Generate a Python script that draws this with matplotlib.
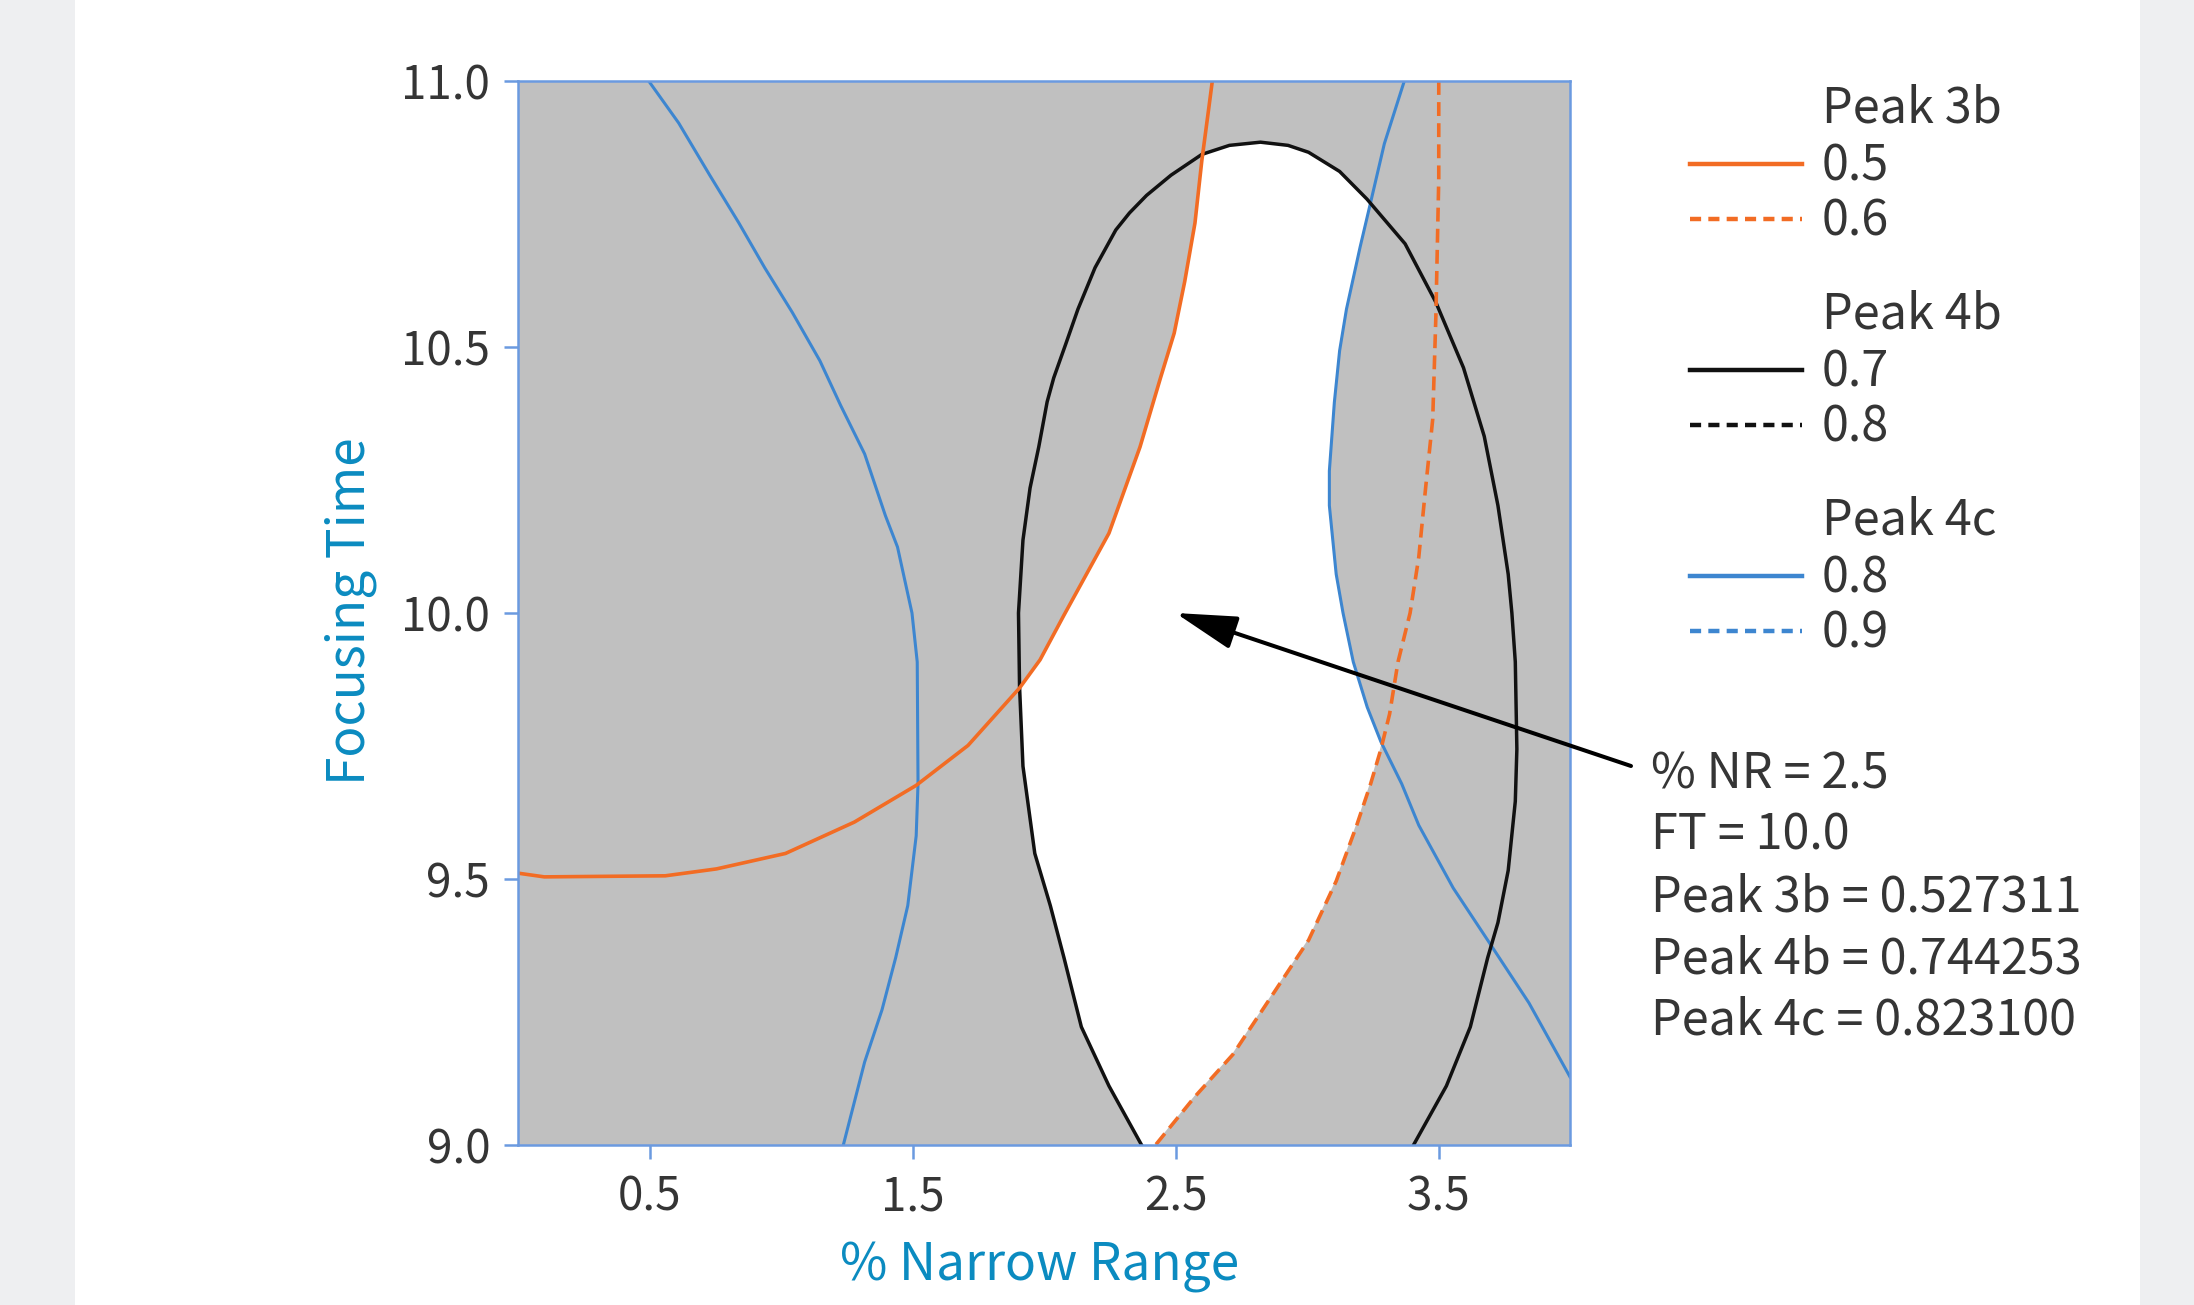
import matplotlib
matplotlib.use("Agg")
import matplotlib.pyplot as plt
from matplotlib.lines import Line2D
from matplotlib.patches import Rectangle

plt.rcParams['font.family'] = ['Noto Sans CJK SC', 'DejaVu Sans']
plt.rcParams['lines.scale_dashes'] = False

# ---------------- data ----------------
x_lim = (0.0, 4.0)
y_lim = (9.0, 11.0)
x_ticks = [0.5, 1.5, 2.5, 3.5]
x_tick_labels = ["0.5", "1.5", "2.5", "3.5"]
y_ticks = [9.0, 9.5, 10.0, 10.5, 11.0]
y_tick_labels = ["9.0", "9.5", "10.0", "10.5", "11.0"]

# Peak 3b = 0.5 contour (solid orange)
p3b_05_x = [0.0, 0.10, 0.56, 0.755, 1.017, 1.279, 1.514, 1.711, 1.907, 1.985, 2.076,
            2.247, 2.365, 2.443, 2.495, 2.535, 2.574, 2.600, 2.626, 2.640]
p3b_05_y = [9.511, 9.504, 9.506, 9.519, 9.548, 9.607, 9.676, 9.751, 9.859, 9.912, 9.996,
            10.150, 10.312, 10.442, 10.526, 10.623, 10.733, 10.850, 10.947, 11.0]

# Peak 3b = 0.6 contour (dashed orange)
p3b_06_x = [3.501, 3.501, 3.490, 3.478, 3.451, 3.425, 3.392, 3.346, 3.314, 3.281, 3.242,
            3.189, 3.111, 3.006, 2.875, 2.718, 2.574, 2.424]
p3b_06_y = [11.0, 10.817, 10.558, 10.364, 10.235, 10.105, 10.0, 9.908, 9.810, 9.744, 9.679,
            9.601, 9.496, 9.385, 9.287, 9.170, 9.091, 9.0]

# Peak 4b = 0.7 contour (solid black)
p4b_07_x = [2.371, 2.247, 2.142, 2.076, 2.024, 1.965, 1.920, 1.907, 1.903, 1.920, 1.947,
            1.980, 2.012, 2.037, 2.083, 2.129, 2.194, 2.273, 2.325, 2.390, 2.483, 2.600,
            2.705, 2.823, 2.928, 3.006, 3.124, 3.228, 3.373, 3.490, 3.595, 3.674, 3.726,
            3.765, 3.779, 3.792, 3.798, 3.792, 3.765, 3.726, 3.687, 3.621, 3.530, 3.405]
p4b_07_y = [9.0, 9.111, 9.222, 9.352, 9.450, 9.548, 9.712, 9.862, 10.0, 10.137, 10.235,
            10.312, 10.397, 10.442, 10.506, 10.571, 10.649, 10.720, 10.752, 10.785, 10.823, 10.862,
            10.879, 10.885, 10.879, 10.866, 10.830, 10.778, 10.694, 10.584, 10.461, 10.332, 10.202,
            10.073, 10.0, 9.908, 9.744, 9.646, 9.516, 9.418, 9.352, 9.222, 9.111, 9.0]

# Peak 4c = 0.8 contour (solid blue), left branch
p4c_08a_x = [0.497, 0.611, 0.729, 0.840, 0.938, 1.043, 1.148, 1.227, 1.318, 1.397, 1.443,
             1.498, 1.518, 1.521, 1.514, 1.482, 1.436, 1.384, 1.318, 1.237]
p4c_08a_y = [11.0, 10.921, 10.823, 10.733, 10.649, 10.565, 10.474, 10.390, 10.299, 10.183, 10.124,
             10.0, 9.908, 9.679, 9.581, 9.450, 9.352, 9.254, 9.156, 9.0]

# Peak 4c = 0.8 contour (solid blue), right branch
p4c_08b_x = [3.370, 3.294, 3.242, 3.202, 3.150, 3.124, 3.104, 3.085, 3.085, 3.111, 3.137,
             3.176, 3.229, 3.281, 3.360, 3.425, 3.556, 3.687, 3.844, 4.0]
p4c_08b_y = [11.0, 10.882, 10.772, 10.688, 10.571, 10.493, 10.396, 10.267, 10.202, 10.073, 10.0,
             9.908, 9.823, 9.758, 9.679, 9.601, 9.483, 9.385, 9.267, 9.128]

legend_groups = ["Peak 3b", "Peak 4b", "Peak 4c"]
legend_levels = [["0.5", "0.6"], ["0.7", "0.8"], ["0.8", "0.9"]]

point_nr = 2.5
point_ft = 10.0
annot_lines = ["% NR = 2.5", "FT = 10.0", "Peak 3b = 0.527311",
               "Peak 4b = 0.744253", "Peak 4c = 0.823100"]

# ---------------- style ----------------
W, H = 2194, 1305
ORANGE = '#f26c24'
BLUE = '#3d86d0'
BLACK = '#111111'
SPINE = '#6b9ae0'
GRAY = '#c0c0c0'
TEXT = '#353535'
LABEL = '#0b8bc0'
SIDE = '#eeeff1'
DASH = (0, (5, 2.6))
FS = 17.5

fig = plt.figure(figsize=(W / 200, H / 200), dpi=200)
fig.patch.set_facecolor('white')
fig.patches.append(Rectangle((0, 0), 75 / W, 1, transform=fig.transFigure,
                             facecolor=SIDE, edgecolor='none', zorder=-10))
fig.patches.append(Rectangle((2140 / W, 0), 1 - 2140 / W, 1, transform=fig.transFigure,
                             facecolor=SIDE, edgecolor='none', zorder=-10))

ax = fig.add_axes([518 / W, 1 - 1145 / H, 1052 / W, 1064 / H])
ax.set_facecolor('white')
ax.set_xlim(*x_lim)
ax.set_ylim(*y_lim)

x0, x1 = x_lim
y0, y1 = y_lim
# gray = region where some constraint fails
fill_kw = dict(facecolor=GRAY, edgecolor=GRAY, lw=0.6, zorder=1)
ax.fill(p3b_05_x + [x0], p3b_05_y + [y1], **fill_kw)                       # above 3b=0.5
ax.fill(p3b_06_x + [x1, x1], p3b_06_y + [y0, y1], **fill_kw)               # right of 3b=0.6
ax.fill(p4c_08a_x + [x0, x0], p4c_08a_y + [y0, y1], **fill_kw)             # left of 4c left branch
ax.fill(p4c_08b_x + [x1], p4c_08b_y + [y1], **fill_kw)                     # right of 4c right branch
itop = p4b_07_y.index(max(p4b_07_y))
ax.fill(p4b_07_x[:itop + 1] + [p4b_07_x[itop], x0, x0],
        p4b_07_y[:itop + 1] + [y1, y1, y0], **fill_kw)                     # outside oval (left)
ax.fill(p4b_07_x[itop:] + [x1, x1, p4b_07_x[itop]],
        p4b_07_y[itop:] + [y0, y1, y1], **fill_kw)                         # outside oval (right)

ax.plot(p4c_08a_x, p4c_08a_y, color=BLUE, lw=1.1, zorder=3)
ax.plot(p4c_08b_x, p4c_08b_y, color=BLUE, lw=1.1, zorder=3)
ax.plot(p4b_07_x, p4b_07_y, color=BLACK, lw=1.25, zorder=3)
ax.plot(p3b_05_x, p3b_05_y, color=ORANGE, lw=1.3, zorder=3)
ax.plot(p3b_06_x, p3b_06_y, color=ORANGE, lw=1.3, ls=DASH, zorder=3)

for s in ax.spines.values():
    s.set_color(SPINE)
    s.set_linewidth(0.9)
    s.set_zorder(4)
ax.set_xticks(x_ticks)
ax.set_xticklabels(x_tick_labels)
ax.set_yticks(y_ticks)
ax.set_yticklabels(y_tick_labels)
ax.tick_params(direction='out', length=5, width=0.9, color=SPINE, labelcolor=TEXT,
               labelsize=16.5, pad=5)

ax.set_xlabel("% Narrow Range", fontsize=18.5, color=LABEL, va='center')
ax.xaxis.set_label_coords((1040 - 518) / 1052, (1145 - 1266) / 1064)
ax.set_ylabel("Focusing Time", fontsize=18.5, color=LABEL, va='center')
ax.yaxis.set_label_coords((350 - 518) / 1052, (1145 - 611) / 1064)

# arrow to the selected point
ann = ax.annotate('', xy=(point_nr, point_ft), xycoords='data',
                  xytext=((1631 - 518) / 263, 11 - (766 - 81) / 532), textcoords='data',
                  annotation_clip=False,
                  arrowprops=dict(arrowstyle='-|>,head_length=19,head_width=5.2',
                                  mutation_scale=1, lw=1.45, color='black',
                                  shrinkA=0, shrinkB=0))
ann.arrow_patch.set_clip_on(False)
ann.set_zorder(6)

CAP = 0.66 * FS * 200 / 72 / 2  # half cap height in px, to place baselines


def put(px, py_center, s):
    fig.text(px / W, 1 - (py_center + CAP) / H, s, fontsize=FS, color=TEXT,
             va='baseline', ha='left')


for i, line in enumerate(annot_lines):
    put(1651, 772 + i * 61.7, line)

# legend (manual, grouped)
group_colors = [ORANGE, BLACK, BLUE]
header_y = [106, 312, 518]
for g, (name, levels, col) in enumerate(zip(legend_groups, legend_levels, group_colors)):
    hy = header_y[g]
    put(1822, hy, name)
    for k, lev in enumerate(levels):
        ly = hy + 58 + k * 55
        fig.add_artist(Line2D([1690 / W, 1802 / W], [1 - ly / H, 1 - ly / H],
                              transform=fig.transFigure, color=col, lw=1.6,
                              ls='-' if k == 0 else (0, (4, 2.6))))
        put(1822, ly, lev)

fig.savefig('out.png', dpi=200, facecolor=fig.get_facecolor())
